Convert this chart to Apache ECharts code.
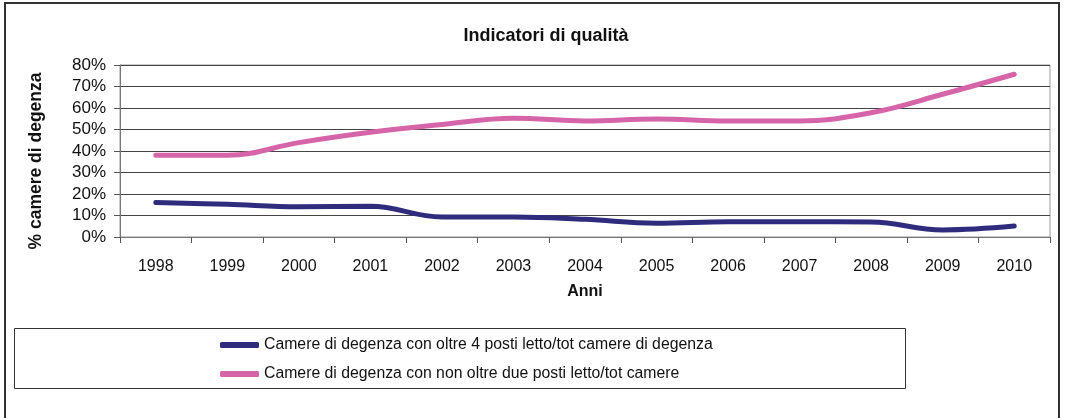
<!DOCTYPE html>
<html>
<head>
<meta charset="utf-8">
<script src="https://cdn.jsdelivr.net/npm/echarts@6/dist/echarts.min.js"></script>
<style>html,body{margin:0;padding:0;background:#fff;}#c{width:1065px;height:418px;}</style>
</head>
<body>
<div id="c"></div>
<script>
const categories = ['1998','1999','2000','2001','2002','2003','2004','2005','2006','2007','2008','2009','2010'];
const seriesNames = ['Camere di degenza con oltre 4 posti letto/tot camere di degenza','Camere di degenza con non oltre due posti letto/tot camere'];
const oltre4 = [0.161, 0.152, 0.141, 0.143, 0.093, 0.093, 0.082, 0.064, 0.071, 0.071, 0.070, 0.033, 0.051];
const nonOltre2 = [0.380, 0.380, 0.439, 0.487, 0.523, 0.552, 0.540, 0.549, 0.540, 0.540, 0.578, 0.664, 0.757];
const yTicks = {min: 0, max: 0.8, interval: 0.1};

const chart = echarts.init(document.getElementById('c'), null, {renderer: 'canvas'});
const font = 'Liberation Sans, Arial, sans-serif';
chart.setOption({
  animation: false,
  backgroundColor: '#fff',
  textStyle: {fontFamily: font},
  title: {
    text: 'Indicatori di qualità', left: 541, top: 22, textAlign: 'center',
    textStyle: {fontSize: 18, fontWeight: 'bold', color: '#111', fontFamily: font}
  },
  graphic: [
    {type: 'rect', shape: {x: 5, y: 3, width: 1054, height: 425}, style: {fill: 'none', stroke: '#333', lineWidth: 2}, silent: true, z: 0},
    {type: 'rect', shape: {x: 14.5, y: 328.5, width: 891, height: 60}, style: {fill: 'none', stroke: '#333', lineWidth: 1}, silent: true, z: 0}
  ],
  grid: {left: 120, right: 15, top: 65, bottom: 181, show: true, borderColor: '#999', borderWidth: 1, backgroundColor: 'transparent'},
  legend: {
    orient: 'vertical', left: 215, top: 332, itemGap: 13, itemWidth: 39, itemHeight: 6,
    icon: 'roundRect',
    textStyle: {fontSize: 15.8, color: '#111', fontFamily: font},
    data: seriesNames
  },
  xAxis: {
    type: 'category', data: categories, boundaryGap: true,
    name: 'Anni', nameLocation: 'middle', nameGap: 47,
    nameTextStyle: {fontSize: 16, fontWeight: 'bold', color: '#111', fontFamily: font},
    axisLine: {lineStyle: {color: '#777', width: 1}},
    axisTick: {show: true, length: 6, lineStyle: {color: '#555'}, alignWithLabel: false},
    axisLabel: {fontSize: 16, color: '#111', margin: 22, fontFamily: font}
  },
  yAxis: {
    type: 'value', min: yTicks.min, max: yTicks.max, interval: yTicks.interval,
    name: '% camere di degenza', nameLocation: 'middle', nameGap: 75,
    nameTextStyle: {fontSize: 17.5, fontWeight: 'bold', color: '#111', fontFamily: font, padding: [0, 20, 0, 0]},
    axisLine: {show: true, lineStyle: {color: '#777', width: 1}},
    axisTick: {show: true, length: 6, lineStyle: {color: '#555'}},
    axisLabel: {fontSize: 17, color: '#111', margin: 14, fontFamily: font,
      formatter: v => Math.round(v * 100) + '%'},
    splitLine: {show: true, lineStyle: {color: '#444', width: 1}}
  },
  series: [
    {name: seriesNames[0], type: 'line', data: oltre4, smooth: 0.4, showSymbol: false, symbol: 'none',
      lineStyle: {color: '#2F2C7E', width: 5, cap: 'round'}, itemStyle: {color: '#2F2C7E'}},
    {name: seriesNames[1], type: 'line', data: nonOltre2, smooth: 0.4, showSymbol: false, symbol: 'none',
      lineStyle: {color: '#D565A8', width: 5, cap: 'round'}, itemStyle: {color: '#D565A8'}}
  ]
});
</script>
</body>
</html>
